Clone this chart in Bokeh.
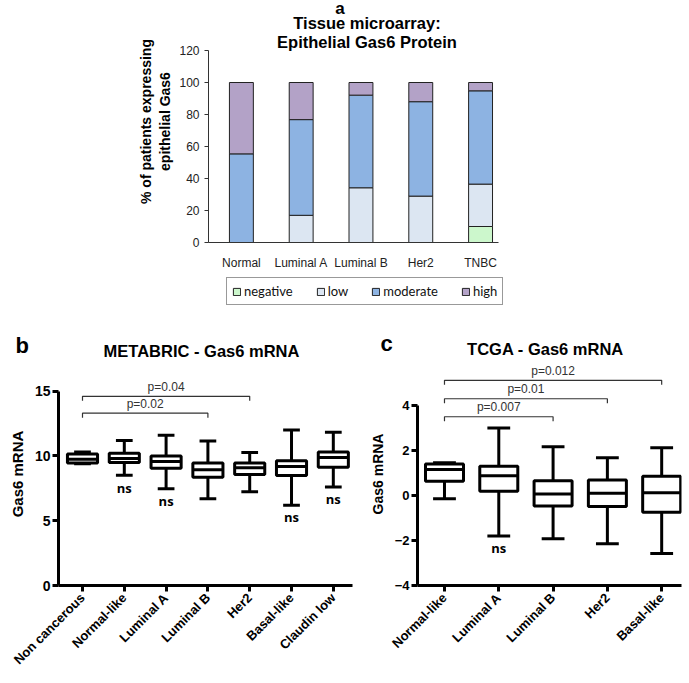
import numpy as np
from math import pi
from bokeh.plotting import figure
from bokeh.models import (ColumnDataSource, Legend, LegendItem, FixedTicker, Label, Range1d)
from bokeh.layouts import column, row
from bokeh.embed import file_html
from bokeh.resources import INLINE
from bokeh.core.properties import value

# ---------------- data ----------------
# Panel a: tissue microarray, % of patients
tma_groups = ["Normal", "Luminal A", "Luminal B", "Her2", "TNBC"]
tma_levels = ["negative", "low", "moderate", "high"]
tma_negative = [0, 0, 0, 0, 10.0]
tma_low = [0, 17.0, 34.2, 29.0, 26.5]
tma_moderate = [55.4, 59.8, 57.9, 59.0, 58.3]
tma_high = [44.6, 23.2, 7.9, 12.0, 5.2]
tma_colors = ["#ccf7cc", "#dce6f2", "#8db3e2", "#b3a2c7"]

# Panel b: METABRIC Gas6 mRNA box plots
mb_groups = ["Non cancerous", "Normal-like", "Luminal A", "Luminal B", "Her2", "Basal-like", "Claudin low"]
mb_min = [9.4, 8.5, 7.46, 6.7, 7.23, 6.2, 7.6]
mb_q1 = [9.45, 9.5, 9.04, 8.35, 8.56, 8.48, 9.12]
mb_med = [9.75, 9.8, 9.57, 8.94, 9.09, 9.19, 9.88]
mb_q3 = [10.15, 10.2, 10.0, 9.45, 9.45, 9.62, 10.3]
mb_max = [10.3, 11.2, 11.6, 11.15, 10.26, 12.0, 11.83]
mb_ns = ["", "ns", "ns", "", "", "ns", "ns"]
mb_pairs = [(0, 3, 13.3, "p=0.02"), (0, 4, 14.6, "p=0.04")]

# Panel c: TCGA Gas6 mRNA box plots
tc_groups = ["Normal-like", "Luminal A", "Luminal B", "Her2", "Basal-like"]
tc_min = [-0.15, -1.8, -1.92, -2.14, -2.58]
tc_q1 = [0.63, 0.19, -0.47, -0.49, -0.74]
tc_med = [1.15, 0.88, 0.07, 0.1, 0.12]
tc_q3 = [1.4, 1.3, 0.66, 0.69, 0.85]
tc_max = [1.45, 3.0, 2.17, 1.68, 2.12]
tc_ns = ["", "ns", "", "", ""]
tc_pairs = [(0, 2, 3.5, "p=0.007"), (0, 3, 4.3, "p=0.01"), (0, 4, 5.12, "p=0.012")]

ARIAL = "Liberation Sans"
W = 689


def base_fig(**kw):
    p = figure(output_backend="svg", toolbar_location=None, sizing_mode="fixed", **kw)
    p.grid.visible = False
    p.outline_line_color = None
    p.background_fill_color = "white"
    p.border_fill_color = "white"
    return p


title_kw = dict(text_align="center", text_baseline="middle", text_font=ARIAL,
                text_font_style="bold", text_color="black")

# ---------------- panel a ----------------
pa = base_fig(width=W, height=275,
              min_border_left=208, min_border_right=191,
              min_border_top=0, min_border_bottom=33,
              x_range=Range1d(-0.55, 4.3), y_range=Range1d(0, 151.25))

src_a = ColumnDataSource(dict(x=list(range(len(tma_groups))), negative=tma_negative,
                              low=tma_low, moderate=tma_moderate, high=tma_high))
rs = pa.vbar_stack(tma_levels, x="x", width=0.4, source=src_a,
                   fill_color=tma_colors, line_color="#222222", line_width=1)

ya = pa.yaxis[0]
ya.ticker = FixedTicker(ticks=[0, 20, 40, 60, 80, 100, 120])
ya.bounds = (0, 120)
ya.axis_line_color = "#333333"
ya.major_tick_line_color = "#333333"
ya.major_tick_out = 4
ya.major_tick_in = 0
ya.minor_tick_line_color = None
ya.major_label_text_font = ARIAL
ya.major_label_text_font_size = "12px"
ya.major_label_text_color = "#222222"
ya.major_label_standoff = 5
ya.axis_label = "% of patients expressing\nepithelial Gas6"
ya.axis_label_text_font = ARIAL
ya.axis_label_text_font_style = "bold"
ya.axis_label_text_font_size = "14px"
ya.axis_label_text_color = "black"
ya.axis_label_standoff = 3

xa = pa.xaxis[0]
xa.ticker = FixedTicker(ticks=list(range(len(tma_groups))))
xa.major_label_overrides = {i: g for i, g in enumerate(tma_groups)}
xa.axis_line_color = "#333333"
xa.major_tick_line_color = None
xa.minor_tick_line_color = None
xa.major_label_text_font = ARIAL
xa.major_label_text_font_size = "12px"
xa.major_label_text_color = "#222222"
xa.major_label_standoff = 7

pa.add_layout(Label(x=2.1, y=120 + 28 / 1.6, text="Tissue microarray:",
                    text_font_size="16.5px", **title_kw))
pa.add_layout(Label(x=2.1, y=120 + 9 / 1.6, text="Epithelial Gas6 Protein",
                    text_font_size="16.5px", **title_kw))
pa.add_layout(Label(x=1.65, y=120 + 42 / 1.6, text="a", text_font_size="17px", **title_kw))

# ---------------- legend strip for panel a ----------------
pl = base_fig(width=W, height=35, min_border_left=0, min_border_right=0,
              min_border_top=0, min_border_bottom=0,
              x_axis_location=None, y_axis_location=None,
              x_range=Range1d(0, 1), y_range=Range1d(0, 1))
# swatch renderers (their single bar lies outside the visible range; only the legend shows them)
leg_rs = [pl.vbar(x=[-5], bottom=[-5], top=[-4], width=0.1, fill_color=c,
                  line_color="#222222", line_width=1)
          for c in tma_colors]
legend = Legend(items=[LegendItem(label=lvl, renderers=[r]) for lvl, r in zip(tma_levels, leg_rs)],
                orientation="horizontal", location=(226, 5),
                border_line_color="#333333", border_line_width=1,
                label_text_font="Lato", label_text_font_size="13px",
                label_text_color="#111111", label_height=14,
                glyph_width=9, glyph_height=9, spacing=23, padding=5,
                label_standoff=3, margin=0, background_fill_alpha=1)
pl.add_layout(legend)

# ---------------- header strip for panels b and c ----------------
ph = base_fig(width=W, height=52, min_border_left=0, min_border_right=0,
              min_border_top=0, min_border_bottom=0,
              x_axis_location=None, y_axis_location=None,
              x_range=Range1d(0, W), y_range=Range1d(0, 52))
ph.add_layout(Label(x=15, y=17, text="b", text_align="left", text_baseline="alphabetic",
                    text_font=ARIAL, text_font_style="bold", text_font_size="22px",
                    text_color="black"))
ph.add_layout(Label(x=201, y=12, text="METABRIC - Gas6 mRNA",
                    text_font_size="16.5px", **title_kw))
ph.add_layout(Label(x=380, y=19, text="c", text_align="left", text_baseline="alphabetic",
                    text_font=ARIAL, text_font_style="bold", text_font_size="22px",
                    text_color="black"))
ph.add_layout(Label(x=545, y=14, text="TCGA - Gas6 mRNA",
                    text_font_size="16.5px", **title_kw))


# ---------------- box plot helpers ----------------
def boxplot(p, mins, q1, med, q3, maxs, box_w, cap_w):
    x = np.arange(len(mins), dtype=float)
    src = ColumnDataSource(dict(x=x, xl=x - box_w / 2, xr=x + box_w / 2,
                                cl=x - cap_w / 2, cr=x + cap_w / 2,
                                mn=mins, q1=q1, md=med, q3=q3, mx=maxs))
    kw = dict(line_color="black", line_width=3)
    p.segment(x0="x", y0="q3", x1="x", y1="mx", source=src, **kw)
    p.segment(x0="x", y0="mn", x1="x", y1="q1", source=src, **kw)
    p.segment(x0="cl", y0="mx", x1="cr", y1="mx", source=src, **kw)
    p.segment(x0="cl", y0="mn", x1="cr", y1="mn", source=src, **kw)
    p.vbar(x="x", bottom="q1", top="q3", width=box_w, source=src,
           fill_color="white", **kw)
    p.segment(x0="xl", y0="md", x1="xr", y1="md", source=src, **kw)


def brackets(p, pairs, tick, toff):
    xs, ys, tx, ty, tt = [], [], [], [], []
    for i, j, yb, t in pairs:
        xs.append([i, i, j, j])
        ys.append([yb - tick, yb, yb, yb - tick])
        tx.append((i + j) / 2)
        ty.append(yb + toff)
        tt.append(t)
    p.multi_line(xs="xs", ys="ys", source=ColumnDataSource(dict(xs=xs, ys=ys)),
                 line_color="#333333", line_width=1.2)
    p.text(x="x", y="y", text="t", source=ColumnDataSource(dict(x=tx, y=ty, t=tt)),
           text_align="center", text_baseline="bottom", text_font=value(ARIAL),
           text_font_size="12px", text_color="#333333")


def ns_labels(p, mins, labels, off):
    xs = [i for i, l in enumerate(labels) if l]
    ys = [mins[i] - off for i in xs]
    ts = [labels[i] for i in xs]
    p.text(x="x", y="y", text="t", source=ColumnDataSource(dict(x=xs, y=ys, t=ts)),
           text_align="center", text_baseline="top", text_font=value("Open Sans"),
           text_font_style="bold", text_font_size="13px", text_color="black")


def style_box_axes(p, yticks, ybounds, groups, ylab_size, ytick_size):
    ya = p.yaxis[0]
    ya.ticker = FixedTicker(ticks=yticks)
    ya.bounds = ybounds
    ya.axis_line_width = 3
    ya.axis_line_color = "black"
    ya.major_tick_line_width = 3
    ya.major_tick_out = 6
    ya.major_tick_in = 0
    ya.minor_tick_line_color = None
    ya.major_label_text_font = ARIAL
    ya.major_label_text_font_style = "bold"
    ya.major_label_text_font_size = ytick_size
    ya.major_label_text_color = "black"
    ya.major_label_standoff = 2
    ya.axis_label = "Gas6 mRNA"
    ya.axis_label_text_font = ARIAL
    ya.axis_label_text_font_style = "bold"
    ya.axis_label_text_font_size = ylab_size
    ya.axis_label_text_color = "black"
    ya.axis_label_standoff = 6

    xa = p.xaxis[0]
    xa.ticker = FixedTicker(ticks=list(range(len(groups))))
    xa.major_label_overrides = {i: g for i, g in enumerate(groups)}
    xa.axis_line_width = 3
    xa.axis_line_color = "black"
    xa.major_tick_line_width = 3
    xa.major_tick_out = 6
    xa.major_tick_in = 0
    xa.minor_tick_line_color = None
    xa.major_label_orientation = pi / 4
    xa.major_label_text_font = ARIAL
    xa.major_label_text_font_style = "bold"
    xa.major_label_text_font_size = "13px"
    xa.major_label_text_color = "black"
    xa.major_label_standoff = 4


# ---------------- panel b ----------------
pb = base_fig(width=360, height=320,
              min_border_left=58, min_border_right=8,
              min_border_top=0, min_border_bottom=94,
              x_range=Range1d(-0.574, 6.459), y_range=Range1d(0, 17.21))
boxplot(pb, mb_min, mb_q1, mb_med, mb_q3, mb_max, 0.72, 0.4)
brackets(pb, mb_pairs, 0.35, 0.2)
ns_labels(pb, mb_min, mb_ns, 0.25)
style_box_axes(pb, [0, 5, 10, 15], (0, 15), mb_groups, "15px", "14px")

# ---------------- panel c ----------------
pc = base_fig(width=329, height=320,
              min_border_left=57, min_border_right=8,
              min_border_top=0, min_border_bottom=97,
              x_range=Range1d(-0.497, 4.365), y_range=Range1d(-4, 5.91))
boxplot(pc, tc_min, tc_q1, tc_med, tc_q3, tc_max, 0.7, 0.42)
brackets(pc, tc_pairs, 0.2, 0.12)
ns_labels(pc, tc_min, tc_ns, 0.15)
style_box_axes(pc, [-4, -2, 0, 2, 4], (-4, 4), tc_groups, "14px", "13px")

layout = column(row(pa, sizing_mode="fixed"),
                row(pl, sizing_mode="fixed"),
                row(ph, sizing_mode="fixed"),
                row(pb, pc, spacing=0, sizing_mode="fixed"),
                spacing=0, sizing_mode="fixed")

open("out.html", "w").write(file_html(layout, INLINE))
